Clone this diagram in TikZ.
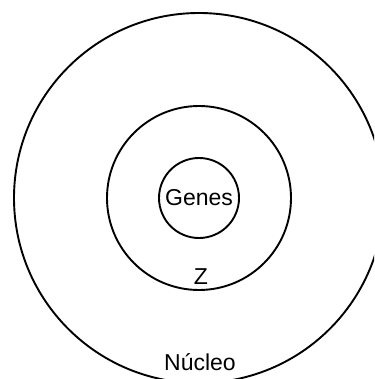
\documentclass[tikz,border=0pt]{standalone}
\usepackage{fontspec}
\setmainfont{Liberation Sans}
\usepackage{tikz}
\usetikzlibrary{positioning}

\tikzset{
	anello/.style={circle, draw, line width=1.9pt, inner sep=0pt, outer sep=0pt},
	etichetta/.style={font=\fontsize{23}{26}\selectfont, inner sep=0pt}
}

\begin{document}
\begin{tikzpicture}[x=1pt, y=-1pt]
			
			% Cornice
			\useasboundingbox (0,0) rectangle (374,379);
			\clip (0,0) rectangle (374,379);
			
			% Cerchio esterno (nucleo)
			\node[anello, minimum size=370pt] (nucleo) at (199,198) {};
			
			% Cerchio intermedio (Z)
			\node[anello, minimum size=184pt] (zona) at (nucleo.center) {};
			
			% Cerchio interno (geni)
			\node[anello, minimum size=80pt, etichetta] (genes) at (nucleo.center) {Genes};
			
			% Etichette
			\node[etichetta, anchor=base] (z) at (201,284) {Z};
			\node[etichetta, anchor=base, fill=white, inner xsep=3pt, inner ysep=4pt] (nome) at (200,370) {Núcleo};
			
		\end{tikzpicture}
\end{document}
